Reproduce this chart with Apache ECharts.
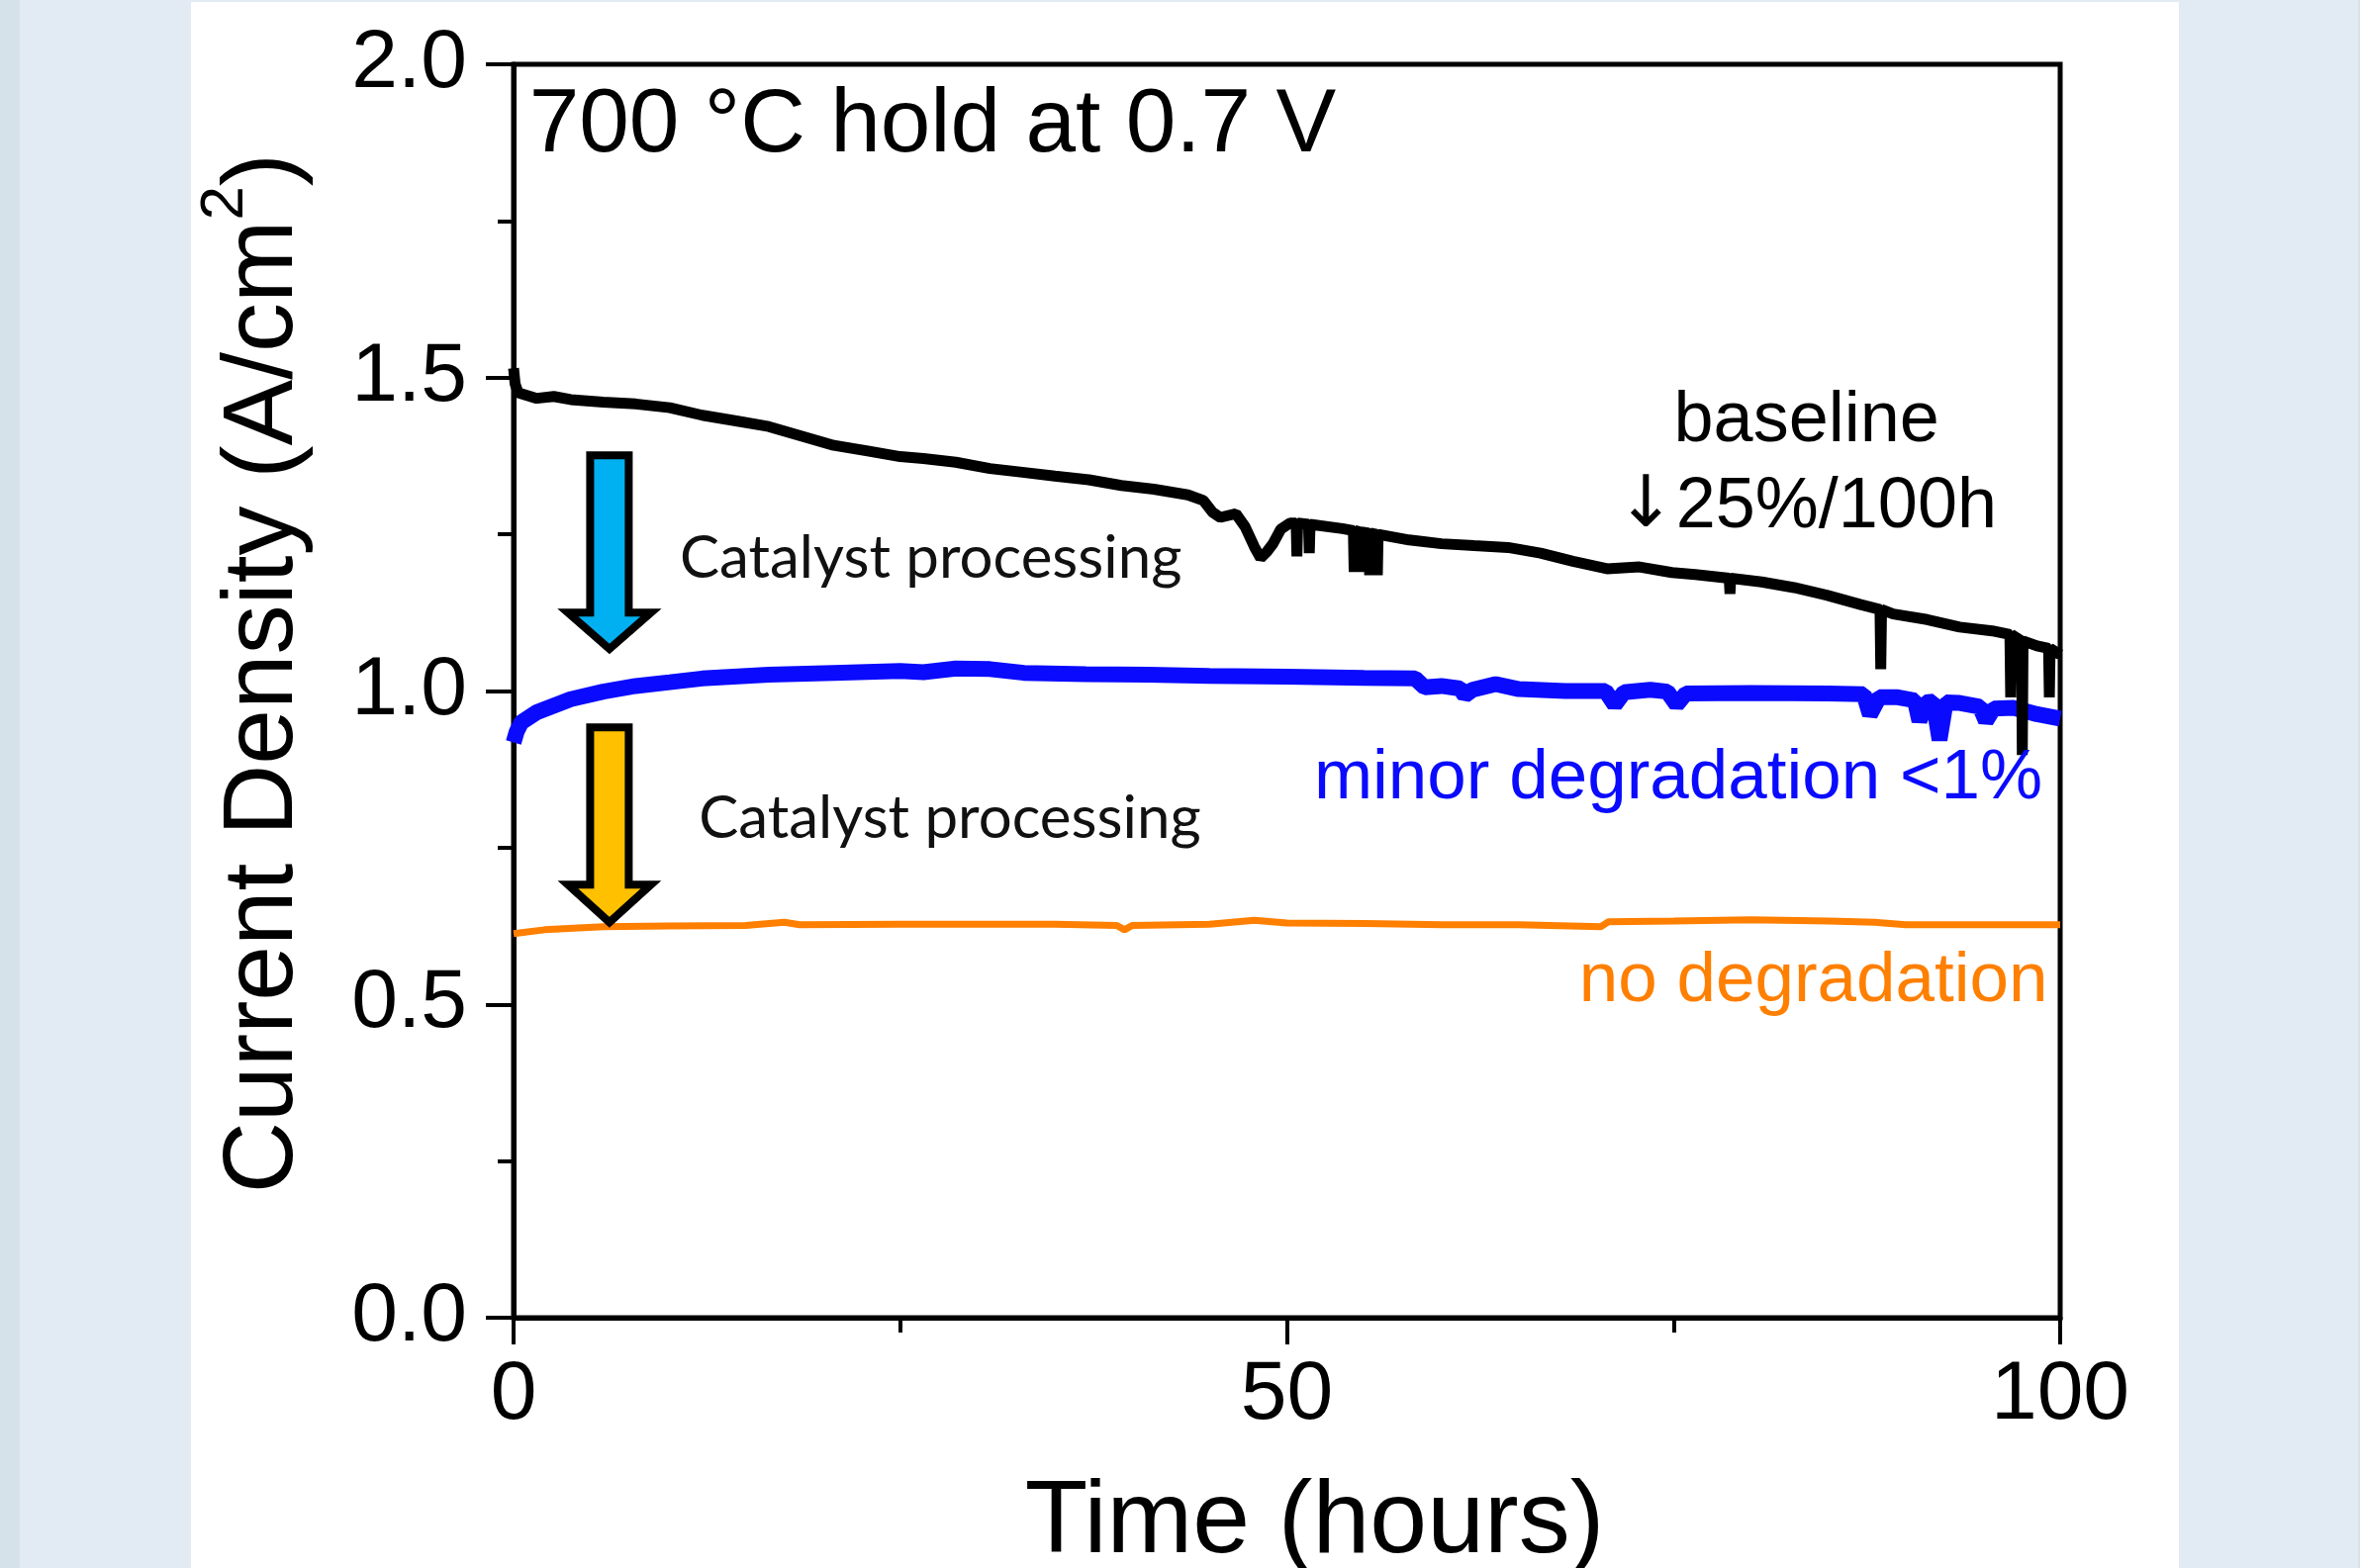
<!DOCTYPE html>
<html>
<head>
<meta charset="utf-8">
<script src="https://cdn.jsdelivr.net/npm/echarts@6/dist/echarts.min.js"></script>
<style>
  html, body { margin: 0; padding: 0; }
  body { width: 2385px; height: 1585px; background: #e2eaf3; position: relative; overflow: hidden; }
  #edgeL { position: absolute; left: 0; top: 0; width: 20px; height: 1585px; background: #d6e2ea; }
  #edgeR { position: absolute; left: 2383px; top: 0; width: 2px; height: 1585px; background: #d6e2ea; }
  #panel { position: absolute; left: 193px; top: 2px; width: 2009px; height: 1583px; background: #ffffff; }
  #main { position: absolute; left: 0; top: 0; width: 2385px; height: 1585px; }
</style>
</head>
<body>
<div id="edgeL"></div>
<div id="edgeR"></div>
<div id="panel"></div>
<div id="main"></div>
<script>
// time (hours), current density (A/cm2)
var baselineData = [
    [0, 1.515], [0.1, 1.49], [0.3, 1.476], [1.5, 1.467], [2.6, 1.47], [3.7, 1.465], [5.8, 1.461],
    [7.9, 1.458], [10.1, 1.452], [12.2, 1.44], [14.4, 1.431], [16.5, 1.422], [18.6, 1.407],
    [20.7, 1.392], [22.9, 1.383], [25, 1.374], [26.5, 1.371], [28.6, 1.365], [30.8, 1.355],
    [32.9, 1.349], [35, 1.343], [37.2, 1.337], [39.3, 1.328], [41.4, 1.322], [43.6, 1.313],
    [44.6, 1.304], [45.2, 1.285], [45.7, 1.277], [46.7, 1.283], [47.3, 1.262], [47.9, 1.23],
    [48.3, 1.212], [48.7, 1.222], [49.1, 1.235], [49.6, 1.258], [50.2, 1.268],
    [50.6, 1.268], [50.65, 1.215], [50.7, 1.268], [51.4, 1.266], [51.45, 1.22], [51.5, 1.266],
    [53.6, 1.259], [54.3, 1.256], [54.35, 1.19], [54.4, 1.256], [54.7, 1.254], [54.75, 1.19],
    [54.8, 1.254], [55.3, 1.252], [55.35, 1.185], [55.4, 1.252], [55.8, 1.25], [55.85, 1.185],
    [55.9, 1.25], [57.9, 1.241], [60, 1.235], [62.1, 1.232], [64.3, 1.229], [66.4, 1.22],
    [68.5, 1.207], [70.7, 1.195], [72.8, 1.198], [74.9, 1.189], [76.4, 1.186], [78.6, 1.18],
    [78.65, 1.155], [78.7, 1.18], [80.7, 1.174], [82.8, 1.165], [84.9, 1.153], [87.1, 1.138],
    [88.35, 1.13], [88.4, 1.035], [88.45, 1.13], [89.2, 1.123], [91.4, 1.114], [93.5, 1.102],
    [95.6, 1.096], [96.75, 1.09], [96.8, 0.99], [96.85, 1.09], [97.5, 1.08], [97.55, 0.898],
    [97.6, 1.08], [98.5, 1.072], [99.25, 1.068], [99.3, 0.99], [99.35, 1.068], [100, 1.058]
];
var minorData = [
    [0, 0.918], [0.2, 0.935], [0.5, 0.95], [1.5, 0.966], [3.7, 0.987], [5.8, 0.999], [7.9, 1.008],
    [10.1, 1.014], [12.2, 1.02], [16.5, 1.026], [20.7, 1.029], [25, 1.032], [26.5, 1.03],
    [28.6, 1.036], [30.8, 1.035], [33, 1.029], [37, 1.027], [41, 1.026], [45, 1.024], [50, 1.023],
    [55, 1.021], [58.3, 1.02], [58.9, 1.006], [60, 1.008], [61.2, 1.004], [61.5, 0.993], [62, 1.002],
    [63.5, 1.011], [65, 1.003], [68, 1.0], [70.6, 1.0], [71.2, 0.978], [71.8, 0.998], [73.5, 1.002],
    [74.6, 0.999], [75.2, 0.978], [75.8, 0.996], [80, 0.997], [85, 0.996], [87.3, 0.995],
    [87.7, 0.962], [88.3, 0.99], [89.5, 0.99], [90.6, 0.985], [90.9, 0.952], [91.3, 0.982],
    [91.8, 0.983], [92.2, 0.922], [92.6, 0.982], [93.5, 0.981], [94.8, 0.975], [95.2, 0.952],
    [95.7, 0.972], [97, 0.973], [98.5, 0.963], [100, 0.956]
];
var noDegData = [
    [0, 0.613], [2, 0.619], [5.8, 0.624], [10, 0.625], [15, 0.626], [17.5, 0.631], [18.5, 0.627],
    [25, 0.628], [30, 0.628], [35, 0.628], [39, 0.626], [39.5, 0.619], [40, 0.626], [45, 0.628],
    [47.9, 0.634], [50, 0.63], [55, 0.629], [60, 0.627], [65, 0.627], [70.3, 0.624], [70.8, 0.632],
    [75, 0.633], [80, 0.635], [85, 0.633], [88, 0.631], [90, 0.627], [95, 0.627], [100, 0.627]
];
var xRange = [0, 100];
var yRange = [0, 2];

var FONT = 'Liberation Sans, Arial, sans-serif';
var chart = echarts.init(document.getElementById('main'), null, { renderer: 'canvas' });

var option = {
    animation: false,
    backgroundColor: 'transparent',
    grid: {
        left: 519, right: 303, top: 65, bottom: 253, outerBoundsMode: 'none',
        show: true, borderColor: '#000', borderWidth: 5, backgroundColor: 'transparent'
    },
    xAxis: {
        type: 'value', min: xRange[0], max: xRange[1], interval: 50,
        name: 'Time (hours)', nameLocation: 'middle', nameGap: 156,
        nameTextStyle: { fontFamily: FONT, fontSize: 104, color: '#000', padding: [0, 0, 0, 56] },
        axisLine: { show: true, onZero: false, lineStyle: { color: '#000', width: 5 } },
        axisTick: { show: true, inside: false, length: 27, lineStyle: { color: '#000', width: 4 } },
        minorTick: { show: true, splitNumber: 2, length: 15, lineStyle: { color: '#000', width: 4 } },
        axisLabel: { fontFamily: FONT, fontSize: 84, color: '#000', margin: 37 },
        splitLine: { show: false }
    },
    yAxis: {
        type: 'value', min: yRange[0], max: yRange[1], interval: 0.5,
        name: '{t|Current Density (A/cm}{s|2}{t|)}', nameLocation: 'middle', nameGap: 182,
        nameTextStyle: {
            padding: [0, 0, 0, 36],
            rich: {
                t: { fontFamily: FONT, fontSize: 100, color: '#000', lineHeight: 140 },
                s: { fontFamily: FONT, fontSize: 62, color: '#000', lineHeight: 62, verticalAlign: 'top' }
            }
        },
        axisLine: { show: true, onZero: false, lineStyle: { color: '#000', width: 5 } },
        axisTick: { show: true, inside: false, length: 28, lineStyle: { color: '#000', width: 4 } },
        minorTick: { show: true, splitNumber: 2, length: 16, lineStyle: { color: '#000', width: 4 } },
        axisLabel: {
            fontFamily: FONT, fontSize: 84, color: '#000', margin: 47,
            formatter: function (v) { return v.toFixed(1); }
        },
        splitLine: { show: false }
    },
    series: [
        {
            name: 'no degradation', type: 'line', data: noDegData, showSymbol: false,
            lineStyle: { color: '#ff7f00', width: 7 }, z: 2
        },
        {
            name: 'minor degradation', type: 'line', data: minorData, showSymbol: false,
            lineStyle: { color: '#0a0aff', width: 16 }, z: 3
        },
        {
            name: 'baseline', type: 'line', data: baselineData, showSymbol: false,
            lineStyle: { color: '#000', width: 11 }, z: 4
        }
    ]
};
chart.setOption(option);

// annotations placed in data coordinates
function px(t, v) {
    return chart.convertToPixel({ gridIndex: 0 }, [t, v]);
}
function note(t, v, text, size, color, align, family, rich) {
    var p = px(t, v);
    var style = {
        text: text, fill: color, font: size + 'px ' + (family || FONT),
        textAlign: align, align: align, textVerticalAlign: 'middle', verticalAlign: 'middle'
    };
    if (rich) style.rich = rich;
    return { type: 'text', x: p[0], y: p[1], z: 20, style: style };
}
function arrow(t, vTop, vBase, vTip, fill) {
    var top = px(t, vTop), base = px(t, vBase), tip = px(t, vTip);
    var cx = top[0], sw = 19.5, hw = 42;
    return {
        type: 'polygon', z: 15,
        shape: { points: [[cx - sw, top[1]], [cx + sw, top[1]], [cx + sw, base[1]], [cx + hw, base[1]],
            [cx, tip[1]], [cx - hw, base[1]], [cx - sw, base[1]]] },
        style: { fill: fill, stroke: '#000', lineWidth: 8, lineJoin: 'miter' }
    };
}

chart.setOption({
    graphic: [
        note(1.0, 1.90, '700 \u00B0C hold at 0.7 V', 91, '#000', 'left'),
        note(83.6, 1.43, 'baseline', 72, '#000', 'center'),
        note(83.6, 1.293, '{a|\u2193}{b|25%/100h}', 72, '#000', 'center', null, {
            a: { fontFamily: 'DejaVu Sans', fontSize: 72, fill: '#000', padding: [0, 0, 0, 0] },
            b: { fontFamily: FONT, fontSize: 72, fill: '#000' }
        }),
        note(10.75, 1.212, 'Catalyst processing', 60, '#111', 'left', 'Lato, sans-serif'),
        note(11.98, 0.796, 'Catalyst processing', 60, '#111', 'left', 'Lato, sans-serif'),
        note(98.85, 0.86, 'minor degradation <1%', 71, '#0a0aff', 'right'),
        note(99.2, 0.536, 'no degradation', 71, '#ff7f00', 'right'),
        arrow(6.2, 1.376, 1.125, 1.067, '#00b0f0'),
        arrow(6.2, 0.942, 0.691, 0.631, '#ffc000')
    ]
});
</script>
</body>
</html>
